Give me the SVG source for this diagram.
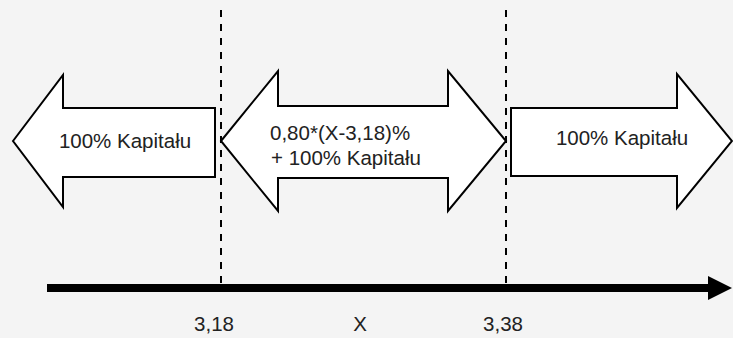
<svg xmlns="http://www.w3.org/2000/svg" width="733" height="338" viewBox="0 0 733 338">
<style>
.arr{fill:#ffffff;stroke:#000;stroke-width:2;stroke-linejoin:miter}
.t{font-family:"Liberation Sans",Arial,sans-serif;font-size:20.5px;fill:#222}
.dash{stroke:#000;stroke-width:2;stroke-dasharray:7 7}
</style>
<defs>
<marker id="ah" viewBox="0 0 10 10" refX="0" refY="5" markerWidth="3" markerHeight="3" markerUnits="strokeWidth" orient="auto">
<path d="M0,0 L10,5 L0,10 Z" fill="#000"/>
</marker>
</defs>
<rect width="733" height="338" fill="#f4f4f4"/>
<g id="connectors">
<line class="dash" x1="221" y1="10" x2="221" y2="284"/>
<line class="dash" x1="506" y1="10" x2="506" y2="284"/>
<line x1="47" y1="288" x2="708" y2="288" stroke="#000" stroke-width="8" marker-end="url(#ah)"/>
</g>
<g id="left-arrow">
<path class="arr" d="M13,141 L63,75 L63,108 L215,108 L215,177 L63,177 L63,207 Z"/>
<text class="t" x="125" y="148" text-anchor="middle">100% Kapitału</text>
</g>
<g id="middle-arrow">
<path class="arr" d="M221,141 L278,71 L278,106 L448,106 L448,71 L506,141 L448,211 L448,178 L278,178 L278,211 Z"/>
<text class="t" x="270" y="140">0,80*(X-3,18)%</text>
<text class="t" x="271" y="165">+ 100% Kapitału</text>
</g>
<g id="right-arrow">
<path class="arr" d="M511,108 L677,108 L677,74 L732,141 L677,208 L677,176 L511,176 Z"/>
<text class="t" x="622" y="145" text-anchor="middle">100% Kapitału</text>
</g>
<g id="labels">
<text class="t" x="214" y="331" text-anchor="middle">3,18</text>
<text class="t" x="360" y="331" text-anchor="middle">X</text>
<text class="t" x="503" y="331" text-anchor="middle">3,38</text>
</g>
</svg>
